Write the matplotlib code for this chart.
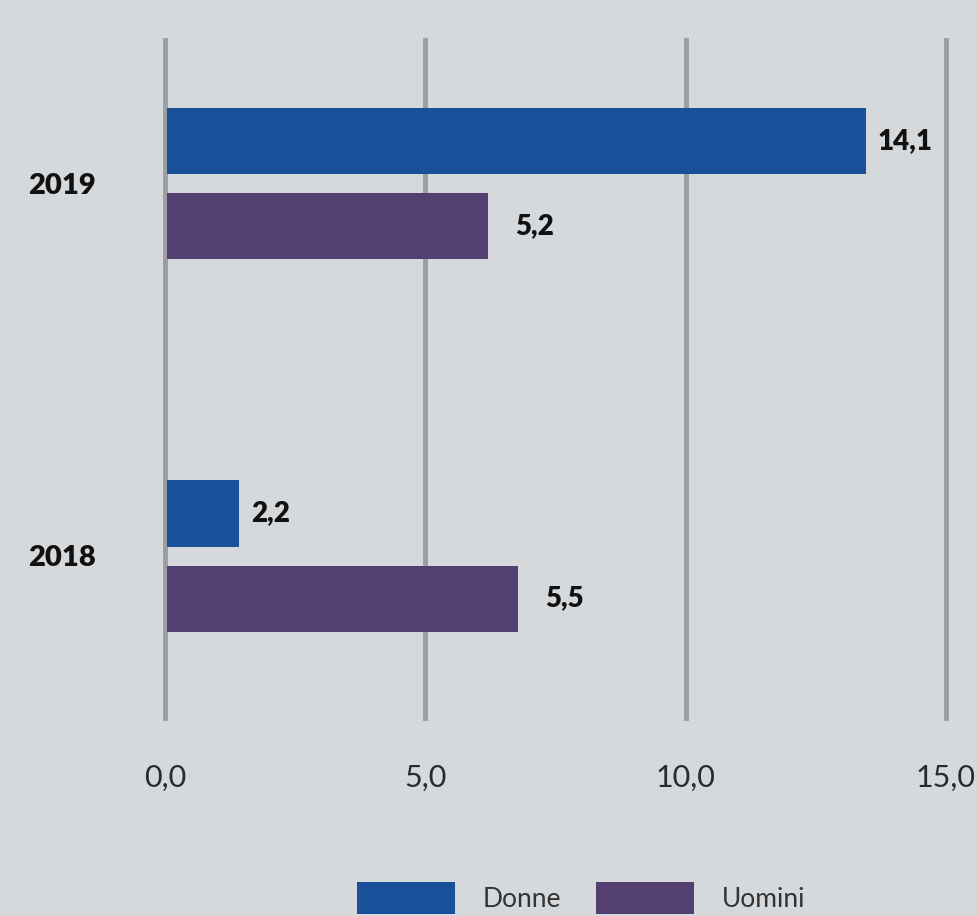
import matplotlib
matplotlib.use("Agg")
import matplotlib.pyplot as plt
import numpy as np

# data
years = ['2019', '2018']
series = ['Donne', 'Uomini']
# bar lengths as drawn in the picture (axis units)
donne_len = [13.42, 1.38]
uomini_len = [6.16, 6.74]
# values printed next to the bars
donne_lbl = ['14,1', '2,2']
uomini_lbl = ['5,2', '5,5']
xticks = [0, 5, 10, 15]
xtick_lbl = ['0,0', '5,0', '10,0', '15,0']

bg = '#d6d9dc'
c_donne = '#1a4f99'
c_uomini = '#533f72'
c_grid = '#9a9ea3'

W, H = 978, 916
fig = plt.figure(figsize=(W / 100, H / 100), dpi=100, facecolor=bg)
ax = fig.add_axes([165 / W, 1 - 718 / H, (946 - 165) / W, (718 - 40) / H])
ax.set_facecolor(bg)

bh = 66 / 372.5
off = 85 / 2 / 372.5
ypos = np.arange(len(years))

ax.barh(ypos - off, donne_len, height=bh, left=0.04, color=c_donne, zorder=3, label=series[0])
ax.barh(ypos + off, uomini_len, height=bh, left=0.04, color=c_uomini, zorder=3, label=series[1])

for i in range(len(years)):
    ax.annotate(donne_lbl[i], (donne_len[i], ypos[i] - off), xytext=(14, 0),
                textcoords='offset pixels', va='center', ha='left',
                fontsize=20, fontweight='heavy', family='Lato', color='#111111')
    ax.annotate(uomini_lbl[i], (uomini_len[i], ypos[i] + off), xytext=(29, 0),
                textcoords='offset pixels', va='center', ha='left',
                fontsize=20, fontweight='heavy', family='Lato', color='#111111')

for x in xticks:
    ax.axvline(x, color=c_grid, lw=3.5, zorder=1, clip_on=False)

ax.set_xlim(0, 15)
top = -(183.5 - 40) / 372.5
ax.set_ylim(top + 678 / 372.5, top)

ax.set_xticks(xticks)
ax.set_xticklabels(xtick_lbl, fontsize=22, family='Lato', fontweight='normal', color='#2a2a2a')
ax.set_yticks(ypos)
ax.set_yticklabels(years, fontsize=21, family='Lato', fontweight='heavy', color='#111111')
ax.tick_params(axis='both', length=0)
ax.tick_params(axis='x', pad=33)
ax.tick_params(axis='y', pad=50)
for s in ax.spines.values():
    s.set_visible(False)

fs = 19
fpx = fs * 100 / 72
fig.legend(loc='upper left', bbox_to_anchor=(357 / W, 1 - 882 / H), ncol=2, frameon=False,
           prop={'family': 'Lato', 'size': fs}, handlelength=98 / fpx, handleheight=40 / fpx,
           handletextpad=28 / fpx, columnspacing=1.3, borderpad=0, borderaxespad=0,
           labelcolor='#333333')

fig.savefig('out.png', dpi=100, facecolor=bg)
